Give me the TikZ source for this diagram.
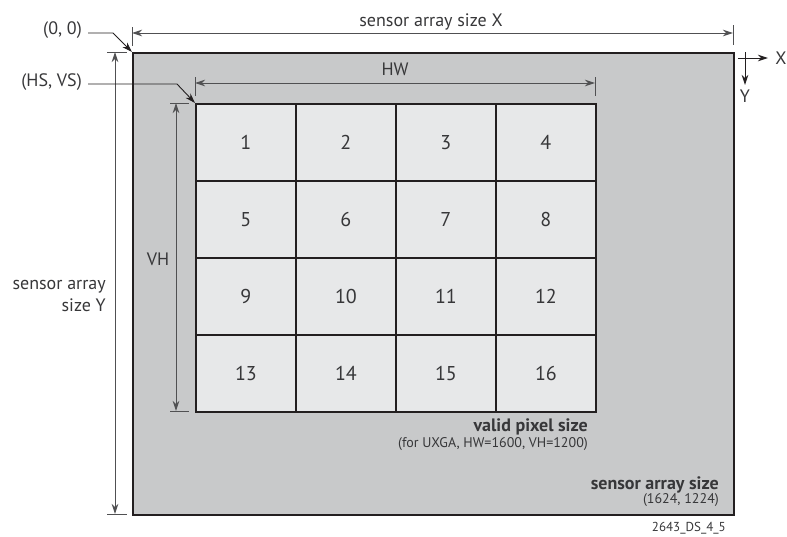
\documentclass[tikz,border=0pt]{standalone}
\usepackage{fontspec}
\setmainfont{PT Sans}
\usetikzlibrary{arrows.meta}
\definecolor{outer}{RGB}{200,201,202}
\definecolor{inner}{RGB}{231,232,233}
\definecolor{edge}{RGB}{35,31,32}
\definecolor{dimc}{RGB}{80,80,82}
\definecolor{txt}{RGB}{55,55,57}
\begin{document}
\begin{tikzpicture}[x=1pt,y=-1pt,
  tip/.tip={Stealth[length=10pt,width=6.5pt,inset=3pt]},
  dim/.style={draw=dimc, line width=0.9pt, tip-tip},
  tick/.style={draw=dimc, line width=0.9pt},
  leader/.style={draw=edge, line width=0.9pt, -tip},
  cellbox/.style={draw=edge, line width=1.8pt, fill=inner, minimum width=100pt, minimum height=77pt, anchor=north west, inner sep=0pt},
  num/.style={font=\fontsize{20}{22}\selectfont, text=txt, inner sep=0pt},
  lbl/.style={font=\fontsize{18}{22}\selectfont, text=txt, inner sep=0pt},
  bold/.style={font=\bfseries\fontsize{18}{20}\selectfont, text=txt, inner sep=0pt, anchor=base east},
  small/.style={font=\fontsize{14}{16}\selectfont, text=txt, inner sep=0pt, anchor=base east}]
\useasboundingbox (0,0) rectangle (787,536);
% sensor area
\node[draw=edge, line width=1.8pt, fill=outer, minimum width=601pt, minimum height=462pt, anchor=north west, inner sep=0pt] (sensor) at (132,52) {};
% cells
\foreach \r in {0,1,2,3}{
  \foreach \c in {0,1,2,3}{
    \pgfmathtruncatemacro{\n}{\r*4+\c+1}
    \node[cellbox] (cell\n) at ({195+100*\c},{103+77*\r}) {};
    \node[num] at (cell\n.center) {\n};
  }
}
% top dimension X
\coordinate (xl) at (132,33);
\coordinate (xr) at (733,33);
\draw[tick] (132,27) -- (132,46);
\draw[tick] (733,25) -- (733,45);
\draw[dim] (xl) -- (xr);
\node[lbl, anchor=base] (lx) at (431,26) {sensor array size X};
% HW
\coordinate (hl) at (195,83);
\coordinate (hr) at (595,83);
\draw[tick] (195,77) -- (195,96);
\draw[tick] (595,77) -- (595,96);
\draw[dim] (hl) -- (hr);
\node[lbl, anchor=base] (lhw) at (395,75) {HW};
% left dimension Y
\coordinate (yt) at (115,52);
\coordinate (yb) at (115,514);
\draw[tick] (107,52) -- (127,52);
\draw[tick] (107,514) -- (127,514);
\draw[dim] (yt) -- (yb);
\node[lbl, align=right, anchor=base east] (ly) at (106,311) {sensor array\\size Y};
% VH
\coordinate (vt) at (176,103);
\coordinate (vb) at (176,411);
\draw[tick] (170,103) -- (189,103);
\draw[tick] (170,411) -- (189,411);
\draw[dim] (vt) -- (vb);
\node[lbl, anchor=base] (lvh) at (158,265) {VH};
% leaders
\node[lbl, anchor=base east] (o) at (82,34) {(0, 0)};
\coordinate (o1) at (88,33);
\coordinate (o2) at (113,33);
\draw[leader] (o1) -- (o2) -- (sensor.north west);
\node[lbl, anchor=base east] (hs) at (82,86) {(HS, VS)};
\coordinate (h1) at (88,84);
\coordinate (h2) at (177,84);
\draw[leader] (h1) -- (h2) -- (cell1.north west);
% axes
\coordinate (ax0) at (738,58);
\coordinate (ax1) at (768,58);
\coordinate (ay0) at (745,52);
\coordinate (ay1) at (745,85);
\draw[leader] (ax0) -- (ax1);
\draw[leader] (ay0) -- (ay1);
\node[lbl, anchor=base] (lxa) at (781,64) {X};
\node[lbl, anchor=base] (lya) at (745,102) {Y};
% captions
\node[bold] (vps) at (588,431) {valid pixel size};
\node[small] (uxga) at (588,447) {(for UXGA, HW=1600, VH=1200)};
\node[bold] (sas) at (719,489) {sensor array size};
\node[small] (dims) at (719,503) {(1624, 1224)};
\node[small, font=\fontsize{13}{15}\selectfont] (id) at (726,531) {2643\_DS\_4\_5};
\end{tikzpicture}
\end{document}
